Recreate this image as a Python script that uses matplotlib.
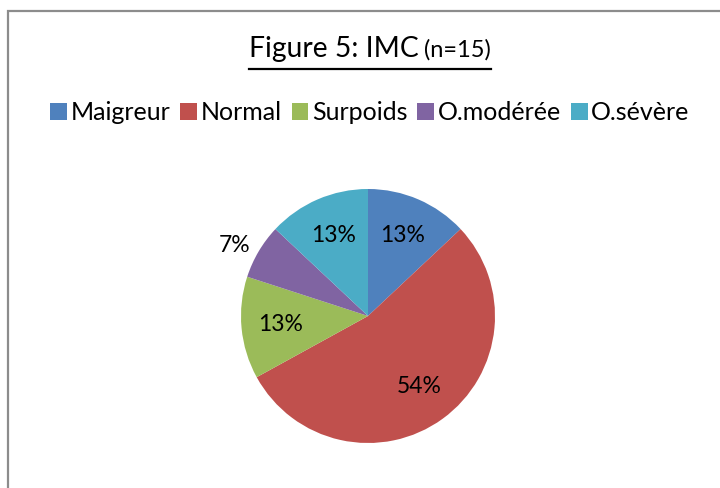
import matplotlib
matplotlib.use("Agg")
import matplotlib.pyplot as plt
from matplotlib.patches import Patch, Rectangle
from matplotlib.lines import Line2D
import numpy as np

plt.rcParams['font.family'] = ['Lato', 'DejaVu Sans']

categories = ["Maigreur", "Normal", "Surpoids", "O.modérée", "O.sévère"]
values = [13, 54, 13, 7, 13]
colors = ["#4F81BD", "#C0504D", "#9BBB59", "#8064A2", "#4BACC6"]
title_main = "Figure 5: IMC"
title_sub = "(n=15)"

W, H = 720, 488
fig = plt.figure(figsize=(W / 100, H / 100), dpi=100)
fig.patch.set_facecolor("white")

# chart area border (left and top visible)
fig.add_artist(Rectangle((8 / W, -0.1), 1.2, (H - 11) / H + 0.1, transform=fig.transFigure,
                         fill=False, edgecolor="#8c8c8c", linewidth=1.6))

cx, cy, R = 368, 316, 127
ax = fig.add_axes([(cx - R) / W, (H - cy - R) / H, 2 * R / W, 2 * R / H])
wedges, texts, autotexts = ax.pie(values, colors=colors, startangle=90, counterclock=False,
                                  autopct=lambda p: f"{p:.0f}%", pctdistance=0.69,
                                  wedgeprops=dict(linewidth=0),
                                  textprops=dict(fontsize=16.5, color="black"))
ax.set_xlim(-1, 1)
ax.set_ylim(-1, 1)
ax.set_aspect("equal")
for t in autotexts:
    t.set_clip_on(False)

# smallest slice label outside the pie (best fit)
i_small = int(np.argmin(values))
w = wedges[i_small]
ang = np.deg2rad((w.theta1 + w.theta2) / 2 + 3)
autotexts[i_small].set_position((1.19 * np.cos(ang), 1.19 * np.sin(ang)))

# title
t1 = fig.text(0, 1 - 57 / H, title_main, fontsize=20.3, ha="left", va="baseline")
t2 = fig.text(0, 1 - 57 / H, title_sub, fontsize=17, ha="left", va="baseline")
fig.canvas.draw()
r = fig.canvas.get_renderer()
w1 = t1.get_window_extent(r).width
w2 = t2.get_window_extent(r).width
gap = 5
total = w1 + gap + w2
x0 = 370 - total / 2
t1.set_x(x0 / W)
t2.set_x((x0 + w1 + gap) / W)
uy = 1 - 68.5 / H
fig.add_artist(Line2D([x0 / W, (x0 + total) / W], [uy, uy], transform=fig.transFigure,
                      color="black", linewidth=1.6))

# legend
handles = [Patch(facecolor=c, edgecolor="none", label=l) for c, l in zip(colors, categories)]
fig.legend(handles=handles, loc="center", bbox_to_anchor=(370 / W, 1 - 113 / H), ncol=5,
           frameon=False, fontsize=18, handlelength=0.66, handleheight=0.66,
           handletextpad=0.15, columnspacing=0.4, borderpad=0)

fig.savefig("out.png", dpi=100, facecolor="white")
